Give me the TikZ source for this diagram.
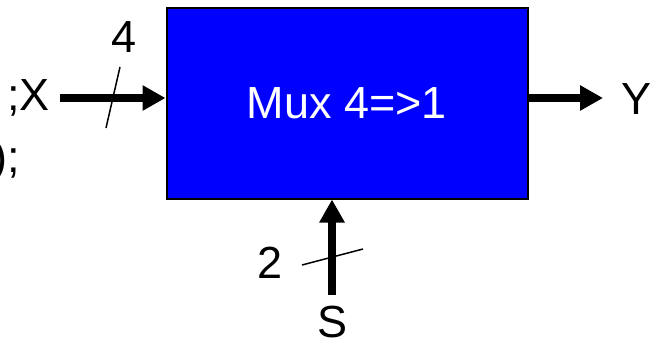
\documentclass[tikz,border=0pt]{standalone}
\usepackage{fontspec}
\setmainfont{Liberation Sans}
\usetikzlibrary{arrows.meta}
\begin{document}
\begin{tikzpicture}[x=1pt,y=-1pt,
  lbl/.style={font=\fontsize{45}{50}\selectfont, inner sep=0pt},
  bus/.style={line width=8pt, -{Triangle[length=23pt,width=24pt]}},
  slash/.style={line width=1.5pt},
  muxbox/.style={draw=black, line width=2pt, fill={rgb,255:red,0;green,0;blue,255},
    minimum width=361pt, minimum height=191pt, inner sep=0pt, text=white}]
\useasboundingbox (0,0) rectangle (653,343);
\clip (0,0) rectangle (653,343);
\node[muxbox, lbl] (mux) at (347,103) {Mux 4=>1};
\node[lbl, anchor=base east] (xl) at (50,110) {;X};
\node[lbl, anchor=base east] (prev) at (20,172) {0);};
\node[lbl] (four) at (124,37) {4};
\node[lbl] (yl) at (636,99) {Y};
\node[lbl] (sl) at (333,322) {S};
\node[lbl] (two) at (270,263) {2};
\coordinate (xin) at (60,98);
\coordinate (yout) at (603,98);
\coordinate (sin) at (332,295);
\draw[bus] (xin) -- (mux.west |- xin);
\draw[bus] (mux.east |- yout) -- (yout);
\draw[bus] (sin) -- (sin |- mux.south);
\coordinate (xs1) at (106,128);
\coordinate (xs2) at (120,67);
\coordinate (ss1) at (302,265);
\coordinate (ss2) at (363,249);
\draw[slash] (xs1) -- (xs2);
\draw[slash] (ss1) -- (ss2);
\end{tikzpicture}
\end{document}
